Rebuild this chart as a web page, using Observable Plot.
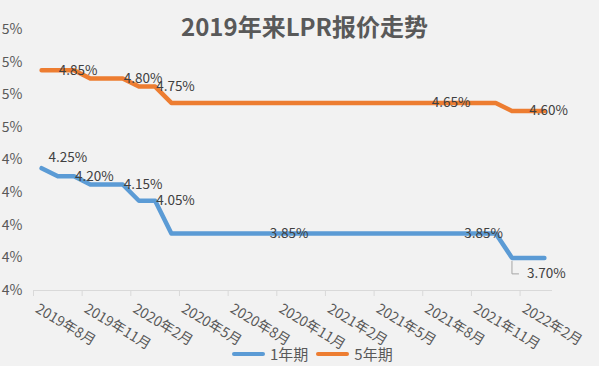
<!DOCTYPE html>
<html><head><meta charset="utf-8">
<script src="https://cdn.jsdelivr.net/npm/d3@7"></script>
<script src="https://cdn.jsdelivr.net/npm/@observablehq/plot@0.6"></script>
<style>
body{margin:0;background:#f2f2f2;}
#wrap{position:relative;width:599px;height:366px;background:#f2f2f2;font-family:"Noto Sans CJK SC","Noto Sans",sans-serif;overflow:hidden}
#title{position:absolute;top:6px;left:5px;width:599px;text-align:center;font-size:24px;font-weight:bold;color:#595959;line-height:40px}
#legend{position:absolute;top:344px;left:232px;display:flex;align-items:center;font-size:15px;color:#595959;line-height:20px}
#legend .sw{display:inline-block;width:33px;height:4px;border-radius:2px;margin-right:5px}
#legend .item{display:flex;align-items:center;margin-right:8px}
#chart{position:absolute;left:0;top:0}
</style></head>
<body>
<div id="wrap">
  <div id="chart"></div>
  <div id="title">2019年来LPR报价走势</div>
  <div id="legend"></div>
</div>
<script>
// ---- data ----
const months = ["2019年8月","2019年9月","2019年10月","2019年11月","2019年12月",
  "2020年1月","2020年2月","2020年3月","2020年4月","2020年5月","2020年6月","2020年7月",
  "2020年8月","2020年9月","2020年10月","2020年11月","2020年12月",
  "2021年1月","2021年2月","2021年3月","2021年4月","2021年5月","2021年6月","2021年7月",
  "2021年8月","2021年9月","2021年10月","2021年11月","2021年12月",
  "2022年1月","2022年2月","2022年3月"];
const rate1Y = [4.25,4.20,4.20,4.15,4.15,4.15,4.05,4.05,
  3.85,3.85,3.85,3.85,3.85,3.85,3.85,3.85,3.85,3.85,3.85,3.85,3.85,3.85,3.85,3.85,3.85,3.85,3.85,3.85,3.85,
  3.70,3.70,3.70];
const rate5Y = [4.85,4.85,4.85,4.80,4.80,4.80,4.75,4.75,
  4.65,4.65,4.65,4.65,4.65,4.65,4.65,4.65,4.65,4.65,4.65,4.65,4.65,4.65,4.65,4.65,4.65,4.65,4.65,4.65,4.65,
  4.60,4.60,4.60];
const seriesNames = ["1年期","5年期"];
const xTickLabels = ["2019年8月","2019年11月","2020年2月","2020年5月","2020年8月","2020年11月",
  "2021年2月","2021年5月","2021年8月","2021年11月","2022年2月"];
const yTicks = [3.5,3.7,3.9,4.1,4.3,4.5,4.7,4.9,5.1];
const yTickLabels = ["4%","4%","4%","4%","4%","5%","5%","5%","5%"];
// data labels: series, month
const labels5Y = ["2019年9月","2020年1月","2020年3月","2021年8月","2022年2月"];
const labels1Y = ["2019年10月","2020年1月","2020年3月","2020年10月","2021年10月"];
const label1YFirst = "2019年8月";
const label1YLeader = "2022年1月";

// ---- build ----
const colors = ["#5b9bd5","#ed7d31"];
const rows = [];
months.forEach((m,i)=>{
  rows.push({m, v: rate1Y[i], s: seriesNames[0]});
  rows.push({m, v: rate5Y[i], s: seriesNames[1]});
});
const pt = (series, m) => ({m, v: series[months.indexOf(m)]});
const fmt = d => d.v.toFixed(2) + "%";
const plainLabels = [...labels5Y.map(m=>pt(rate5Y,m)), ...labels1Y.map(m=>pt(rate1Y,m))];
const firstLabel = [pt(rate1Y, label1YFirst)];
const leaderLabel = [pt(rate1Y, label1YLeader)];

const W=599,H=366,mL=33,mR=47,mT=29,mB=76;
const step=(W-mL-mR)/months.length;
const leaderSymbol = {draw(ctx){ctx.moveTo(0,3);ctx.lineTo(0,16);ctx.lineTo(7,16);}};
const fontLbl = 13.5;

const chart = Plot.plot({
  width:W,height:H,marginLeft:mL,marginRight:mR,marginTop:mT,marginBottom:mB,
  style:{background:"transparent",fontFamily:'"Noto Sans CJK SC","Noto Sans",sans-serif',fontSize:"14px",color:"#595959",overflow:"visible"},
  x:{type:"point",domain:months,padding:0.5,round:false,axis:null,label:null},
  y:{domain:[3.5,5.1],axis:null,label:null},
  color:{domain:seriesNames,range:colors},
  marks:[
    Plot.ruleY([3.5],{stroke:"#d9d9d9",strokeWidth:1}),
    Plot.axisX({ticks:xTickLabels,tickSize:6,tickFormat:()=>"",dx:-step/2,stroke:"#d9d9d9",label:null}),
    Plot.axisY({ticks:yTicks,tickSize:0,tickPadding:11,tickFormat:d=>yTickLabels[yTicks.indexOf(d)],fontSize:14,fill:"#595959",label:null}),
    Plot.text(xTickLabels,{x:d=>d,frameAnchor:"bottom",dy:21,dx:-7,rotate:31,textAnchor:"start",fill:"#595959",fontSize:14}),
    Plot.line(rows,{x:"m",y:"v",z:"s",stroke:"s",strokeWidth:4.5,strokeLinejoin:"round",strokeLinecap:"round"}),
    Plot.text(plainLabels,{x:"m",y:"v",text:fmt,textAnchor:"start",dx:1,fill:"#404040",fontSize:fontLbl}),
    Plot.text(firstLabel,{x:"m",y:"v",text:fmt,textAnchor:"start",dx:7,dy:-10,fill:"#404040",fontSize:fontLbl}),
    Plot.dot(leaderLabel,{x:"m",y:"v",symbol:leaderSymbol,fill:"none",stroke:"#a6a6a6",strokeWidth:1}),
    Plot.text(leaderLabel,{x:"m",y:"v",text:fmt,textAnchor:"start",dx:15,dy:16,fill:"#404040",fontSize:fontLbl})
  ]
});
document.getElementById("chart").appendChild(chart);

const lg = document.getElementById("legend");
seriesNames.forEach((s,i)=>{
  const it=document.createElement("span");it.className="item";
  const sw=document.createElement("span");sw.className="sw";sw.style.background=colors[i];
  it.appendChild(sw);it.appendChild(document.createTextNode(s));lg.appendChild(it);
});
</script>
</body></html>
